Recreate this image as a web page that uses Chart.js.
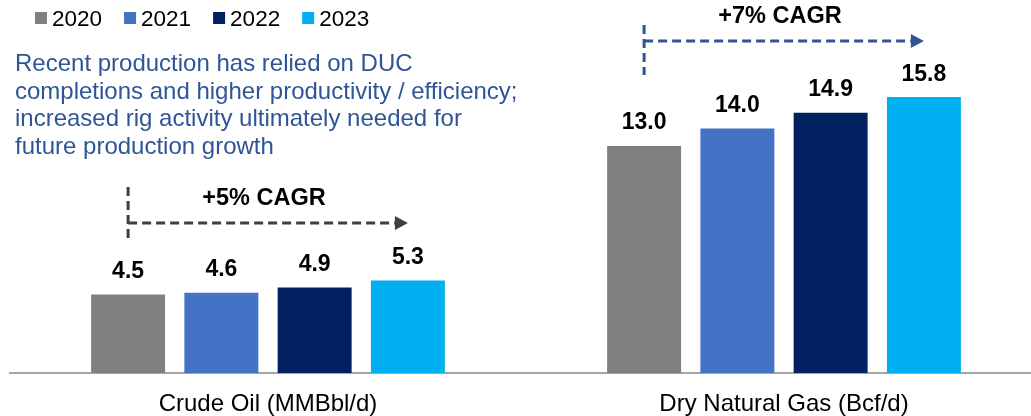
<!DOCTYPE html>
<html>
<head>
<meta charset="utf-8">
<script src="https://cdn.jsdelivr.net/npm/chart.js@4.4.1/dist/chart.umd.min.js"></script>
<style>
html, body { margin: 0; padding: 0; background: #fff; overflow: hidden; }
#wrap { width: 1031px; height: 416px; overflow: hidden; }
canvas { display: block; }
</style>
</head>
<body>
<div id="wrap"><canvas id="myCanvas" width="1042" height="416"></canvas></div>
<script>
// data
const categories = ["Crude Oil (MMBbl/d)", "Dry Natural Gas (Bcf/d)"];
const years = ["2020", "2021", "2022", "2023"];
const values2020 = [4.5, 13.0];
const values2021 = [4.6, 14.0];
const values2022 = [4.9, 14.9];
const values2023 = [5.3, 15.8];
const cagrLabels = ["+5% CAGR", "+7% CAGR"];
const noteLines = [
    "Recent production has relied on DUC",
    "completions and higher productivity / efficiency;",
    "increased rig activity ultimately needed for",
    "future production growth",
];

const FONT = "'Liberation Sans', Arial, sans-serif";
const colors = ["#808080", "#4472c4", "#002060", "#00b0f0"];

// arrow layout, in y-axis units
const arrows = [
    { top: 10.65, bottom: 7.45, level: 8.59, color: "#404040" },
    { top: 19.93, bottom: 17.07, level: 19.01, color: "#2f5597" },
];

const legendPlugin = {
    id: "ownLegend",
    afterDraw(chart) {
        const ctx = chart.ctx;
        ctx.save();
        ctx.font = "22.5px " + FONT;
        ctx.textBaseline = "alphabetic";
        let x = 35;
        chart.data.datasets.forEach((ds) => {
            ctx.fillStyle = ds.backgroundColor;
            ctx.fillRect(x, 12, 12, 12);
            ctx.fillStyle = "#000";
            ctx.fillText(ds.label, x + 17, 26);
            x += 17 + ctx.measureText(ds.label).width + 22;
        });
        ctx.restore();
    },
};

const notePlugin = {
    id: "note",
    afterDraw(chart) {
        const ctx = chart.ctx;
        ctx.save();
        ctx.font = "24px " + FONT;
        ctx.fillStyle = "#2f5597";
        ctx.textBaseline = "alphabetic";
        noteLines.forEach((line, i) => {
            ctx.fillText(line, 15, 71 + i * 27.7);
        });
        ctx.restore();
    },
};

const valueLabels = {
    id: "valueLabels",
    afterDatasetsDraw(chart) {
        const ctx = chart.ctx;
        ctx.save();
        ctx.font = "bold 23px " + FONT;
        ctx.fillStyle = "#000";
        ctx.textAlign = "center";
        ctx.textBaseline = "alphabetic";
        chart.data.datasets.forEach((ds, i) => {
            chart.getDatasetMeta(i).data.forEach((bar, j) => {
                ctx.fillText(ds.data[j].toFixed(1), bar.x, bar.y - 16.5);
            });
        });
        ctx.restore();
    },
};

const cagrArrows = {
    id: "cagrArrows",
    afterDatasetsDraw(chart) {
        const ctx = chart.ctx;
        const y = chart.scales.y;
        const first = chart.getDatasetMeta(0).data;
        const last = chart.getDatasetMeta(chart.data.datasets.length - 1).data;
        ctx.save();
        arrows.forEach((a, i) => {
            const x0 = first[i].x;
            const x1 = last[i].x;
            const yl = y.getPixelForValue(a.level);
            ctx.strokeStyle = a.color;
            ctx.fillStyle = a.color;
            ctx.lineWidth = 3;
            ctx.setLineDash([9, 5]);
            ctx.beginPath();
            ctx.moveTo(x0, y.getPixelForValue(a.top));
            ctx.lineTo(x0, y.getPixelForValue(a.bottom));
            ctx.moveTo(x0, yl);
            ctx.lineTo(x1 - 13, yl);
            ctx.stroke();
            ctx.setLineDash([]);
            ctx.beginPath();
            ctx.moveTo(x1, yl);
            ctx.lineTo(x1 - 13, yl - 7);
            ctx.lineTo(x1 - 13, yl + 7);
            ctx.closePath();
            ctx.fill();

            ctx.font = "bold 23.5px " + FONT;
            ctx.fillStyle = "#000";
            ctx.textAlign = "center";
            ctx.textBaseline = "alphabetic";
            ctx.fillText(cagrLabels[i], (x0 + x1) / 2 - 4, yl - 18);
        });
        ctx.restore();
    },
};

const seriesValues = [values2020, values2021, values2022, values2023];

new Chart(document.getElementById("myCanvas"), {
    type: "bar",
    data: {
        labels: categories,
        datasets: years.map((yr, i) => ({
            label: yr,
            data: seriesValues[i],
            backgroundColor: colors[i],
            categoryPercentage: 0.723,
            barPercentage: 0.793,
        })),
    },
    options: {
        responsive: false,
        animation: false,
        layout: { padding: { left: 10, right: 0, top: 0, bottom: 0 } },
        plugins: {
            legend: { display: false },
            tooltip: { enabled: false },
        },
        scales: {
            y: {
                display: false,
                min: 0,
                max: 21.36,
            },
            x: {
                grid: { display: false, drawTicks: false },
                border: { display: true, color: "#a6a6a6", width: 2 },
                ticks: {
                    color: "#000",
                    padding: 17,
                    font: { family: FONT, size: 24 },
                },
                afterFit: (scale) => { scale.height = 43; },
            },
        },
    },
    plugins: [legendPlugin, notePlugin, valueLabels, cagrArrows],
});
</script>
</body>
</html>
